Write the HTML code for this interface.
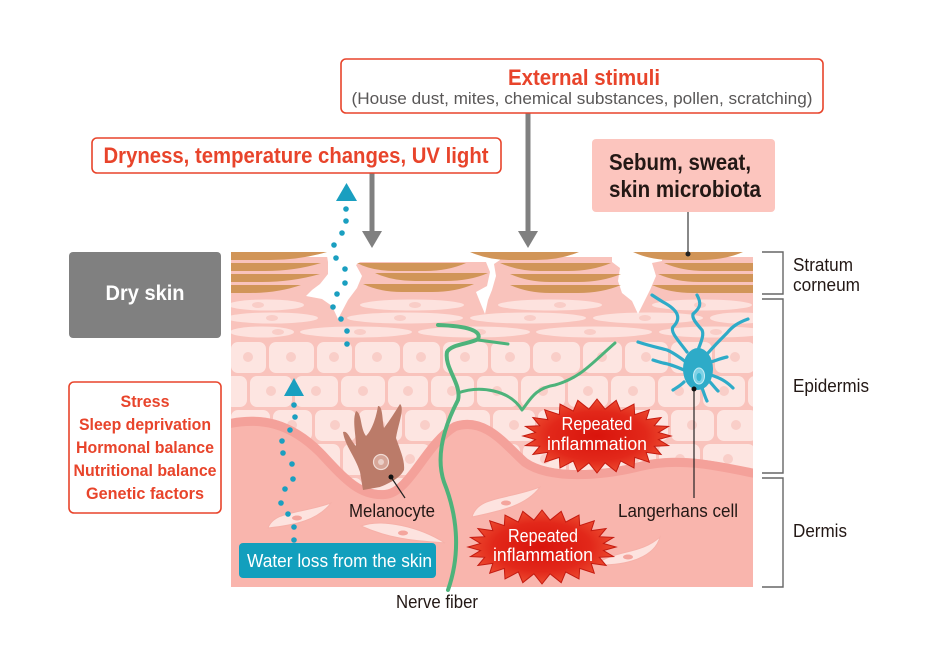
<!DOCTYPE html>
<html><head><meta charset="utf-8"><style>
html,body{margin:0;padding:0;background:#fff;}
svg{display:block;}
text{font-family:"Liberation Sans",sans-serif;}
</style></head><body>
<svg width="932" height="656" viewBox="0 0 932 656" xmlns="http://www.w3.org/2000/svg">
<defs>
<radialGradient id="burst" cx="50%" cy="50%" r="55%">
<stop offset="0" stop-color="#d9140c"/><stop offset="0.6" stop-color="#e2281a"/><stop offset="1" stop-color="#ef5536"/>
</radialGradient>
<clipPath id="skin"><rect x="231" y="240" width="522" height="347"/></clipPath>
<polygon id="star" points="74,0 61.5,3.5 71.5,9.6 57.3,10.3 64.1,18.5 49.2,16.4 52.3,26.2 37.7,21.4 37,32 23.7,24.9 19.2,35.7 8.1,26.8 0,37 -8.1,26.8 -19.2,35.7 -23.7,24.9 -37,32 -37.7,21.4 -52.3,26.2 -49.2,16.4 -64.1,18.5 -57.3,10.3 -71.5,9.6 -61.5,3.5 -74,0 -61.5,-3.5 -71.5,-9.6 -57.3,-10.3 -64.1,-18.5 -49.2,-16.4 -52.3,-26.2 -37.7,-21.4 -37,-32 -23.7,-24.9 -19.2,-35.7 -8.1,-26.8 0,-37 8.1,-26.8 19.2,-35.7 23.7,-24.9 37,-32 37.7,-21.4 52.3,-26.2 49.2,-16.4 64.1,-18.5 57.3,-10.3 71.5,-9.6 61.5,-3.5"/>
</defs>

<!-- SKIN -->
<g clip-path="url(#skin)">
<rect x="231" y="257" width="522" height="330" fill="#f9c3bc"/>
<!-- granular layer -->
<g fill="#fde2de">
<ellipse cx="266" cy="305" rx="38" ry="5.5"/><ellipse cx="412" cy="305" rx="52" ry="5.5"/><ellipse cx="550" cy="305" rx="52" ry="5.5"/><ellipse cx="702" cy="305" rx="50" ry="5.5"/>
<ellipse cx="272" cy="318" rx="46" ry="5.5"/><ellipse cx="405" cy="318" rx="58" ry="5.5"/><ellipse cx="528" cy="318" rx="58" ry="5.5"/><ellipse cx="648" cy="318" rx="55" ry="5.5"/><ellipse cx="740" cy="318" rx="30" ry="5.5"/>
<ellipse cx="262" cy="332" rx="32" ry="5.5"/><ellipse cx="356" cy="332" rx="56" ry="5.5"/><ellipse cx="474" cy="332" rx="56" ry="5.5"/><ellipse cx="594" cy="332" rx="58" ry="5.5"/><ellipse cx="714" cy="332" rx="55" ry="5.5"/>
</g>
<g fill="#f9cdc7">
<ellipse cx="258" cy="305" rx="6" ry="3"/><ellipse cx="415" cy="305" rx="6" ry="3"/><ellipse cx="560" cy="305" rx="6" ry="3"/><ellipse cx="700" cy="305" rx="6" ry="3"/>
<ellipse cx="272" cy="318" rx="6" ry="3"/><ellipse cx="400" cy="318" rx="6" ry="3"/><ellipse cx="530" cy="318" rx="6" ry="3"/><ellipse cx="645" cy="318" rx="6" ry="3"/>
<ellipse cx="278" cy="332" rx="6" ry="3"/><ellipse cx="360" cy="332" rx="6" ry="3"/><ellipse cx="480" cy="332" rx="6" ry="3"/><ellipse cx="590" cy="332" rx="6" ry="3"/><ellipse cx="716" cy="332" rx="6" ry="3"/>
</g>
<!-- spinous cells -->
<g fill="#fde5e1">
<rect x="231" y="342" width="35" height="31" rx="7"/><rect x="269" y="342" width="45" height="31" rx="7"/><rect x="317" y="342" width="35" height="31" rx="7"/><rect x="355" y="342" width="45" height="31" rx="7"/><rect x="403" y="342" width="37" height="31" rx="7"/><rect x="443" y="342" width="45" height="31" rx="7"/><rect x="491" y="342" width="39" height="31" rx="7"/><rect x="533" y="342" width="47" height="31" rx="7"/><rect x="583" y="342" width="39" height="31" rx="7"/><rect x="625" y="342" width="43" height="31" rx="7"/><rect x="671" y="342" width="41" height="31" rx="7"/><rect x="715" y="342" width="40" height="31" rx="7"/>
<rect x="225" y="376" width="22" height="31" rx="7"/><rect x="250" y="376" width="42" height="31" rx="7"/><rect x="295" y="376" width="43" height="31" rx="7"/><rect x="341" y="376" width="44" height="31" rx="7"/><rect x="388" y="376" width="40" height="31" rx="7"/><rect x="431" y="376" width="43" height="31" rx="7"/><rect x="477" y="376" width="41" height="31" rx="7"/><rect x="521" y="376" width="44" height="31" rx="7"/><rect x="568" y="376" width="40" height="31" rx="7"/><rect x="611" y="376" width="44" height="31" rx="7"/><rect x="658" y="376" width="42" height="31" rx="7"/><rect x="703" y="376" width="42" height="31" rx="7"/><rect x="748" y="376" width="20" height="31" rx="7"/>
<rect x="231" y="410" width="39" height="31" rx="7"/><rect x="273" y="410" width="39" height="31" rx="7"/><rect x="315" y="410" width="41" height="31" rx="7"/><rect x="359" y="410" width="43" height="31" rx="7"/><rect x="405" y="410" width="41" height="31" rx="7"/><rect x="449" y="410" width="41" height="31" rx="7"/><rect x="493" y="410" width="42" height="31" rx="7"/><rect x="538" y="410" width="40" height="31" rx="7"/><rect x="581" y="410" width="44" height="31" rx="7"/><rect x="628" y="410" width="40" height="31" rx="7"/><rect x="671" y="410" width="43" height="31" rx="7"/><rect x="717" y="410" width="40" height="31" rx="7"/>
<rect x="225" y="444" width="27" height="31" rx="7"/><rect x="255" y="444" width="41" height="31" rx="7"/><rect x="299" y="444" width="41" height="31" rx="7"/><rect x="343" y="444" width="44" height="31" rx="7"/><rect x="390" y="444" width="40" height="31" rx="7"/><rect x="433" y="444" width="43" height="31" rx="7"/><rect x="479" y="444" width="41" height="31" rx="7"/><rect x="523" y="444" width="43" height="31" rx="7"/><rect x="569" y="444" width="41" height="31" rx="7"/><rect x="613" y="444" width="43" height="31" rx="7"/><rect x="659" y="444" width="41" height="31" rx="7"/><rect x="703" y="444" width="52" height="31" rx="7"/>
<rect x="231" y="478" width="41" height="31" rx="7"/><rect x="275" y="478" width="43" height="31" rx="7"/><rect x="321" y="478" width="41" height="31" rx="7"/><rect x="365" y="478" width="43" height="31" rx="7"/><rect x="411" y="478" width="41" height="31" rx="7"/>
</g>
<g fill="#f9cec8">
<circle cx="248" cy="357" r="5"/><circle cx="291" cy="357" r="5"/><circle cx="334" cy="357" r="5"/><circle cx="377" cy="357" r="5"/><circle cx="421" cy="357" r="5"/><circle cx="465" cy="357" r="5"/><circle cx="510" cy="357" r="5"/><circle cx="556" cy="357" r="5"/><circle cx="602" cy="357" r="5"/><circle cx="646" cy="357" r="5"/><circle cx="691" cy="357" r="5"/><circle cx="735" cy="357" r="5"/>
<circle cx="271" cy="391" r="5"/><circle cx="316" cy="391" r="5"/><circle cx="363" cy="391" r="5"/><circle cx="408" cy="391" r="5"/><circle cx="452" cy="391" r="5"/><circle cx="497" cy="391" r="5"/><circle cx="543" cy="391" r="5"/><circle cx="588" cy="391" r="5"/><circle cx="633" cy="391" r="5"/><circle cx="679" cy="391" r="5"/><circle cx="724" cy="391" r="5"/>
<circle cx="250" cy="425" r="5"/><circle cx="292" cy="425" r="5"/><circle cx="335" cy="425" r="5"/><circle cx="380" cy="425" r="5"/><circle cx="425" cy="425" r="5"/><circle cx="469" cy="425" r="5"/><circle cx="514" cy="425" r="5"/><circle cx="558" cy="425" r="5"/><circle cx="603" cy="425" r="5"/><circle cx="648" cy="425" r="5"/><circle cx="692" cy="425" r="5"/><circle cx="736" cy="425" r="5"/>
<circle cx="275" cy="459" r="5"/><circle cx="319" cy="459" r="5"/><circle cx="365" cy="459" r="5"/><circle cx="410" cy="459" r="5"/><circle cx="454" cy="459" r="5"/><circle cx="545" cy="459" r="5"/><circle cx="634" cy="459" r="5"/><circle cx="680" cy="459" r="5"/><circle cx="728" cy="459" r="5"/>
<circle cx="341" cy="493" r="5"/><circle cx="431" cy="493" r="5"/>
</g>
<!-- dermis -->
<path d="M231,420 C260,412 290,418 320,448 C345,475 360,492 385,490 C410,488 425,440 455,422 C485,412 505,440 525,458 C550,475 600,472 640,462 C680,452 720,462 753,470 L753,590 L231,590 Z" fill="#f9b5ad"/>
<path d="M225,420 C260,412 290,418 320,448 C345,475 360,492 385,490 C410,488 425,440 455,422 C485,412 505,440 525,458 C550,475 600,472 640,462 C680,452 720,462 760,470" fill="none" stroke="#f4a19a" stroke-width="9" transform="translate(0,4.5)"/>
<!-- white notches / tops -->
<g fill="#fff">
<rect x="225" y="240" width="535" height="17"/>
<rect x="350" y="240" width="145" height="22"/>
<polygon points="326,250 360,250 360,262 356,265 362,276 357,288 348,300 338,319 332,306 322,299 306,296 312,290 320,284 328,274 328,262"/>
<polygon points="468,250 500,250 500,260 494,264 496,276 492,290 488,300 485,314 480,302 476,292 487,286 490,272 486,262"/>
<polygon points="612,250 662,250 662,261 652,263 656,276 650,290 645,300 638,314 632,301 622,293 618,281 620,268 612,262"/>
</g>
<!-- stratum corneum stripes -->
<g fill="#d19558">
<path d="M150,252 L327,252 Q300,260 270,260 L150,260 Z"/>
<path d="M150,263 L321,263 Q295,271 265,271 L150,271 Z"/>
<path d="M150,274 L320,274 Q292,282 262,282 L150,282 Z"/>
<path d="M150,285 L301,285 Q278,293 250,293 L150,293 Z"/>
<path d="M357,263 L466,263 Q448,271 425,271 L395,271 Q372,271 357,263 Z"/>
<path d="M375,273 L488,273 Q470,281 445,281 L415,281 Q392,281 375,273 Z"/>
<path d="M363,284 L474,284 Q456,292 432,292 L402,292 Q380,292 363,284 Z"/>
<path d="M470,252 L579,252 Q560,260 536,260 L510,260 Q488,260 470,252 Z"/>
<path d="M500,263 L611,263 Q592,271 568,271 L540,271 Q518,271 500,263 Z"/>
<path d="M510,274 L621,274 Q602,282 578,282 L550,282 Q528,282 510,274 Z"/>
<path d="M510,285 L621,285 Q602,293 578,293 L550,293 Q528,293 510,285 Z"/>
<path d="M633,252 L743,252 Q725,260 700,260 L672,260 Q650,260 633,252 Z"/>
<path d="M664,263 L800,263 L800,271 L705,271 Q682,271 664,263 Z"/>
<path d="M658,274 L800,274 L800,282 L699,282 Q676,282 658,274 Z"/>
<path d="M652,285 L800,285 L800,293 L693,293 Q670,293 652,285 Z"/>
</g>
</g>

<!-- fibroblasts -->
<g fill="#fde3df" stroke="#f6b1a9" stroke-width="1">
<path d="M268,528 C274,511 300,514 331,503 C318,520 296,525 268,528 Z"/>
<path d="M361,526 C382,518 420,527 445,543 C424,541 394,541 361,526 Z"/>
<path d="M472,517 C478,496 506,500 540,487 C526,506 500,511 472,517 Z"/>
<path d="M595,565 C616,549 640,555 660,537 C655,556 630,566 595,565 Z"/>
</g>
<g fill="#f4a59d">
<ellipse cx="297" cy="518" rx="5" ry="2.5"/><ellipse cx="403" cy="533" rx="5" ry="2.5"/><ellipse cx="506" cy="503" rx="5" ry="2.5"/><ellipse cx="628" cy="557" rx="5" ry="2.5"/>
</g>

<!-- nerve -->
<g fill="none" stroke="#4db37b" stroke-width="4" stroke-linecap="round" stroke-linejoin="round">
<path d="M448,590 C462,550 456,512 444,482 C435,455 445,425 458,400 C462,384 444,368 447,352 C451,344 470,344 478,339 C482,331 468,326 438,325"/>
<path d="M478,340 L508,344" stroke-width="3"/>
<path d="M458,393 C480,385 510,390 522,410 C530,400 535,388 555,385 C580,378 590,365 615,343" stroke-width="3"/>
</g>

<!-- melanocyte -->
<path d="M363,490 L360,472 C355,456 345,446 343,432 C348,430 350,440 356,446 C356,435 352,420 356,411 C362,413 360,428 366,436 C372,430 376,418 378,406 C383,406 382,420 384,428 C390,420 395,412 400,404 C405,408 398,425 396,438 C400,450 405,460 404,470 C400,478 390,483 380,487 Z" fill="#bb7b69"/>
<circle cx="381" cy="462" r="7.5" fill="#d7a698" stroke="#f1dcd5" stroke-width="1.2"/>
<circle cx="381" cy="462" r="3" fill="#ead0c8"/>
<line x1="391" y1="477" x2="405" y2="498" stroke="#222" stroke-width="1.2"/>
<circle cx="391" cy="477" r="2.5" fill="#111"/>

<!-- Langerhans cell -->
<g fill="none" stroke="#2eabc8" stroke-width="3.2" stroke-linecap="round">
<path d="M687,352 C678,340 670,332 673,327 C682,318 678,310 663,302 C658,299 655,297 652,295"/>
<path d="M698,350 C702,340 704,334 702,330 C695,322 692,318 693,314 C700,308 702,304 697,295"/>
<path d="M708,353 C715,345 722,338 727,333 C732,327 737,323 748,319"/>
<path d="M686,362 C678,356 672,352 667,350 C660,348 650,346 638,342"/>
<path d="M684,370 C677,367 670,364 663,363 C659,362 656,361 653,360"/>
<path d="M711,362 C717,360 722,358 727,357"/>
<path d="M711,375 C720,378 726,381 733,388"/>
<path d="M684,382 C680,386 676,388 673,390"/>
<path d="M702,388 C704,393 705,397 707,401"/>
<path d="M709,381 C713,385 715,388 718,391"/>
</g>
<ellipse cx="698" cy="369" rx="15" ry="21" fill="#2eabc8"/>
<ellipse cx="699" cy="376" rx="5.5" ry="8" fill="#7ed2e6" stroke="#c9eef6" stroke-width="1"/>
<ellipse cx="699" cy="377" rx="2.5" ry="4" fill="#3db8d3"/>
<line x1="694" y1="389" x2="694" y2="498" stroke="#222" stroke-width="1.2"/>
<circle cx="694" cy="389" r="2.5" fill="#111"/>

<!-- bursts -->
<g transform="translate(597,436)"><use href="#star" fill="url(#burst)" stroke="#c41a10" stroke-width="1"/></g>
<g transform="translate(542,547)"><use href="#star" fill="url(#burst)" stroke="#c41a10" stroke-width="1"/></g>
<g fill="#fff" font-size="18" text-anchor="middle">
<text x="597" y="430" textLength="71" lengthAdjust="spacingAndGlyphs">Repeated</text>
<text x="597" y="450" textLength="100" lengthAdjust="spacingAndGlyphs">inflammation</text>
<text x="543" y="542" textLength="70" lengthAdjust="spacingAndGlyphs">Repeated</text>
<text x="543" y="561" textLength="100" lengthAdjust="spacingAndGlyphs">inflammation</text>
</g>

<!-- water loss dots -->
<g fill="#1a9fc0">
<polygon points="336,201 357,201 346.5,183"/>
<circle cx="346" cy="209" r="2.8"/><circle cx="346" cy="221" r="2.8"/><circle cx="342" cy="233" r="2.8"/><circle cx="334" cy="245" r="2.8"/><circle cx="336" cy="258" r="2.8"/><circle cx="345" cy="269" r="2.8"/><circle cx="345" cy="283" r="2.8"/><circle cx="337" cy="294" r="2.8"/><circle cx="333" cy="307" r="2.8"/><circle cx="341" cy="319" r="2.8"/><circle cx="347" cy="331" r="2.8"/><circle cx="347" cy="344" r="2.8"/>
<polygon points="284,396 304,396 294,378"/>
<circle cx="294" cy="405" r="2.8"/><circle cx="295" cy="417" r="2.8"/><circle cx="290" cy="430" r="2.8"/><circle cx="282" cy="441" r="2.8"/><circle cx="283" cy="453" r="2.8"/><circle cx="292" cy="464" r="2.8"/><circle cx="293" cy="479" r="2.8"/><circle cx="285" cy="489" r="2.8"/><circle cx="281" cy="503" r="2.8"/><circle cx="288" cy="514" r="2.8"/><circle cx="294" cy="527" r="2.8"/><circle cx="294" cy="540" r="2.8"/>
</g>
<rect x="239" y="543" width="197" height="35" rx="4" fill="#129fbd"/>
<text x="247" y="567" font-size="18" fill="#fff" textLength="185" lengthAdjust="spacingAndGlyphs">Water loss from the skin</text>

<!-- gray arrows -->
<g fill="#808080">
<rect x="369.5" y="173" width="5" height="60"/>
<polygon points="362,231 382,231 372,248"/>
<rect x="525.5" y="113" width="5" height="120"/>
<polygon points="518,231 538,231 528,248"/>
</g>

<!-- top boxes -->
<rect x="341" y="59" width="482" height="54" rx="5" fill="#fff" stroke="#e8442b" stroke-width="1.6"/>
<text x="584" y="85" font-size="22" font-weight="bold" fill="#e8442b" text-anchor="middle" textLength="152" lengthAdjust="spacingAndGlyphs">External stimuli</text>
<text x="582" y="104" font-size="17" fill="#595757" text-anchor="middle" textLength="461" lengthAdjust="spacingAndGlyphs">(House dust, mites, chemical substances, pollen, scratching)</text>

<rect x="92" y="138" width="409" height="35" rx="5" fill="#fff" stroke="#e8442b" stroke-width="1.6"/>
<text x="296" y="163" font-size="22" font-weight="bold" fill="#e8442b" text-anchor="middle" textLength="385" lengthAdjust="spacingAndGlyphs">Dryness, temperature changes, UV light</text>

<rect x="592" y="139" width="183" height="73" rx="4" fill="#fcc5be"/>
<text x="609" y="170" font-size="23" font-weight="bold" fill="#231815" textLength="142" lengthAdjust="spacingAndGlyphs">Sebum, sweat,</text>
<text x="609" y="197" font-size="23" font-weight="bold" fill="#231815" textLength="152" lengthAdjust="spacingAndGlyphs">skin microbiota</text>
<line x1="688" y1="212" x2="688" y2="254" stroke="#555" stroke-width="1.4"/>
<circle cx="688" cy="254" r="2.5" fill="#222"/>

<!-- left boxes -->
<rect x="69" y="252" width="152" height="86" rx="4" fill="#808080"/>
<text x="145" y="300" font-size="21" font-weight="bold" fill="#fff" text-anchor="middle" textLength="79" lengthAdjust="spacingAndGlyphs">Dry skin</text>

<rect x="69" y="382" width="152" height="131" rx="5" fill="#fff" stroke="#e8442b" stroke-width="1.6"/>
<g font-size="17" font-weight="bold" fill="#e8442b" text-anchor="middle">
<text x="145" y="407" textLength="49" lengthAdjust="spacingAndGlyphs">Stress</text>
<text x="145" y="430" textLength="132" lengthAdjust="spacingAndGlyphs">Sleep deprivation</text>
<text x="145" y="453" textLength="138" lengthAdjust="spacingAndGlyphs">Hormonal balance</text>
<text x="145" y="476" textLength="143" lengthAdjust="spacingAndGlyphs">Nutritional balance</text>
<text x="145" y="499" textLength="118" lengthAdjust="spacingAndGlyphs">Genetic factors</text>
</g>

<!-- brackets -->
<g fill="none" stroke="#666" stroke-width="1.4">
<path d="M762,252 H783 V294 H762"/>
<path d="M762,299 H783 V473 H762"/>
<path d="M762,478 H783 V587 H762"/>
</g>
<g font-size="18" fill="#231815">
<text x="793" y="271" textLength="60" lengthAdjust="spacingAndGlyphs">Stratum</text>
<text x="793" y="291" textLength="67" lengthAdjust="spacingAndGlyphs">corneum</text>
<text x="793" y="392" textLength="76" lengthAdjust="spacingAndGlyphs">Epidermis</text>
<text x="793" y="537" textLength="54" lengthAdjust="spacingAndGlyphs">Dermis</text>
<text x="349" y="517" textLength="86" lengthAdjust="spacingAndGlyphs">Melanocyte</text>
<text x="618" y="517" textLength="120" lengthAdjust="spacingAndGlyphs">Langerhans cell</text>
<text x="396" y="608" textLength="82" lengthAdjust="spacingAndGlyphs">Nerve fiber</text>
</g>
</svg>
</body></html>
